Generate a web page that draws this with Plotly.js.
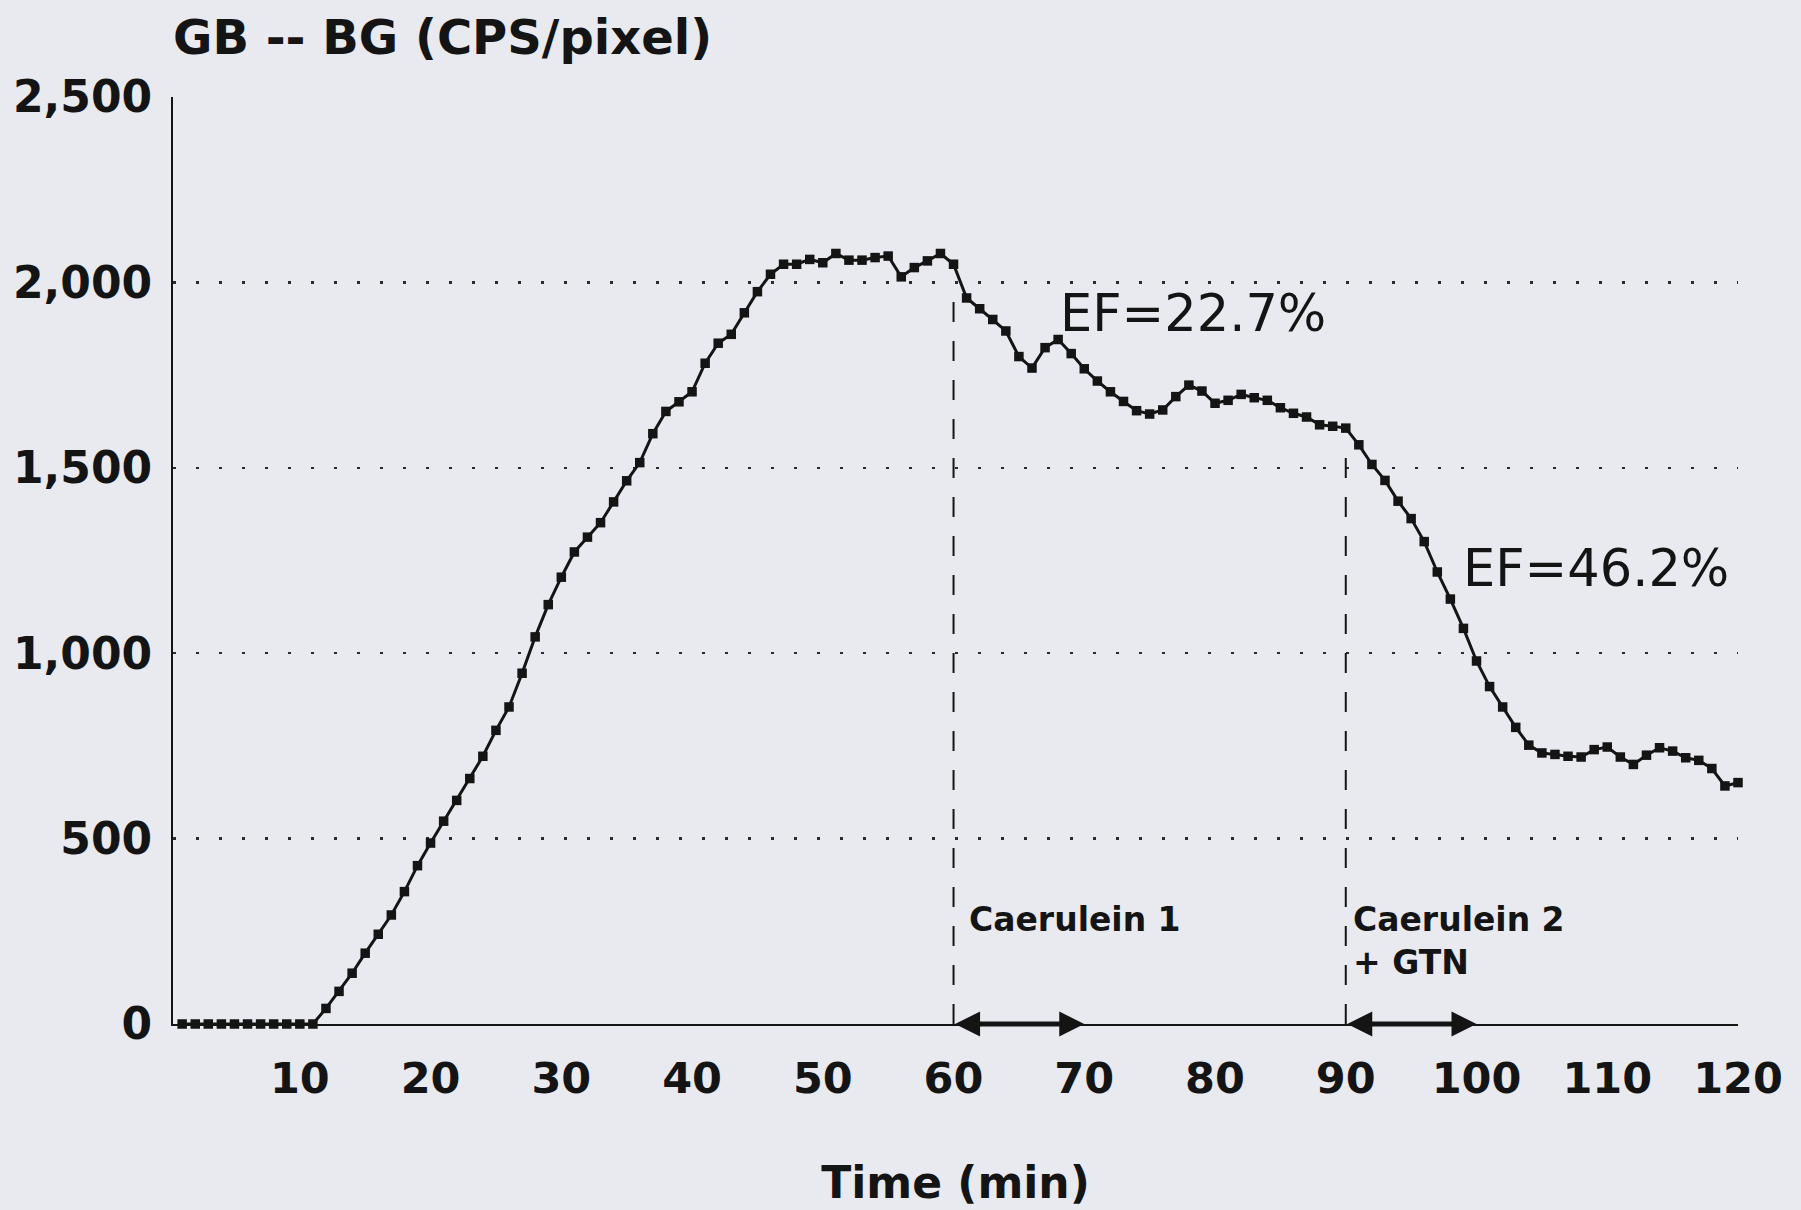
<!DOCTYPE html>
<html>
<head>
<meta charset="utf-8">
<script src="https://cdn.plot.ly/plotly-3.0.1.min.js"></script>
<style>
html, body { margin: 0; padding: 0; background: #e8eaef; }
#chart { width: 1801px; height: 1210px; }
</style>
</head>
<body>
<div id="chart"></div>
<script>
// Time (min) of each acquisition frame
const timeMin = [
  1, 2, 3, 4, 5, 6, 7, 8, 9, 10,
  11, 12, 13, 14, 15, 16, 17, 18, 19, 20,
  21, 22, 23, 24, 25, 26, 27, 28, 29, 30,
  31, 32, 33, 34, 35, 36, 37, 38, 39, 40,
  41, 42, 43, 44, 45, 46, 47, 48, 49, 50,
  51, 52, 53, 54, 55, 56, 57, 58, 59, 60,
  61, 62, 63, 64, 65, 66, 67, 68, 69, 70,
  71, 72, 73, 74, 75, 76, 77, 78, 79, 80,
  81, 82, 83, 84, 85, 86, 87, 88, 89, 90,
  91, 92, 93, 94, 95, 96, 97, 98, 99, 100,
  101, 102, 103, 104, 105, 106, 107, 108, 109, 110,
  111, 112, 113, 114, 115, 116, 117, 118, 119, 120
];

// Gallbladder minus background counts (CPS/pixel)
const gbMinusBg = [
  0, 0, 0, 0, 0, 0, 0, 0, 0, 0,
  0, 42, 88, 137, 191, 242, 294, 357, 427, 488,
  547, 603, 662, 722, 792, 855, 946, 1044, 1131, 1205,
  1273, 1313, 1352, 1408, 1465, 1514, 1592, 1652, 1678, 1705,
  1782, 1836, 1860, 1918, 1975, 2022, 2049, 2049, 2062, 2053,
  2078, 2060, 2060, 2067, 2071, 2015, 2040, 2058, 2078, 2049,
  1958, 1929, 1900, 1869, 1800, 1769, 1824, 1846, 1808, 1767,
  1734, 1705, 1679, 1654, 1645, 1656, 1692, 1723, 1707, 1674,
  1682, 1698, 1689, 1682, 1662, 1647, 1637, 1616, 1612, 1607,
  1562, 1509, 1466, 1410, 1363, 1301, 1219, 1146, 1067, 979,
  910, 855, 800, 752, 731, 727, 722, 720, 740, 747,
  720, 700, 725, 745, 736, 718, 711, 689, 642, 651
];

const yTickVals = [0, 500, 1000, 1500, 2000, 2500];
const yTickText = ['0', '500', '1,000', '1,500', '2,000', '2,500'];
const xTickVals = [10, 20, 30, 40, 50, 60, 70, 80, 90, 100, 110, 120];
const xTickText = ['10', '20', '30', '40', '50', '60', '70', '80', '90', '100', '110', '120'];

// Caerulein infusions
const doseStart = [60, 90];
const doseEnd = [70, 100];
const doseLineTop = [1960, 1575];
const doseLabels = ['Caerulein 1', 'Caerulein 2<br>+ GTN'];
const doseLabelX = [61, 90.4];
const doseLabelY = [283, 224];

// Ejection fractions
const efLabels = ['EF=22.7%', 'EF=46.2%'];
const efX = [68.0, 98.8];
const efY = [1915, 1229];

const ink = '#141414';
const fontFam = 'DejaVu Sans';

const trace = {
  x: timeMin,
  y: gbMinusBg,
  type: 'scatter',
  mode: 'lines+markers',
  line: { color: ink, width: 3 },
  marker: { symbol: 'square', size: 9.5, color: ink },
  cliponaxis: false,
  hoverinfo: 'skip'
};

const shapes = doseStart.map((t, i) => ({
  type: 'line', xref: 'x', yref: 'y',
  x0: t, x1: t, y0: 0, y1: doseLineTop[i],
  line: { color: ink, width: 2, dash: '20px,19px' }
}));

const annotations = [];
doseStart.forEach((t, i) => {
  annotations.push({
    x: doseEnd[i], y: 0, xref: 'x', yref: 'y',
    ax: t, ay: 0, axref: 'x', ayref: 'y',
    text: '', showarrow: true,
    arrowside: 'end+start', arrowhead: 2, startarrowhead: 2,
    arrowsize: 1, startarrowsize: 1, arrowwidth: 5, arrowcolor: ink
  });
  annotations.push({
    x: doseLabelX[i], y: doseLabelY[i], xref: 'x', yref: 'y',
    text: doseLabels[i], showarrow: false,
    xanchor: 'left', yanchor: 'middle', align: 'left',
    font: { family: fontFam, size: 33, weight: 'bold', color: ink }
  });
});
efLabels.forEach((txt, i) => {
  annotations.push({
    x: efX[i], y: efY[i], xref: 'x', yref: 'y',
    text: txt, showarrow: false,
    xanchor: 'left', yanchor: 'middle',
    font: { family: fontFam, size: 51, weight: 500, color: ink }
  });
});

const layout = {
  width: 1801, height: 1210,
  paper_bgcolor: '#e8eaef', plot_bgcolor: '#e8eaef',
  margin: { l: 173, r: 63, t: 97, b: 186, pad: 0 },
  showlegend: false,
  font: { family: fontFam, color: ink },
  title: {
    text: 'GB -- BG (CPS/pixel)',
    font: { family: fontFam, size: 48, weight: 'bold', color: ink },
    xref: 'paper', x: 0, xanchor: 'left',
    yref: 'container', y: 0.9695, yanchor: 'middle'
  },
  xaxis: {
    range: [0.3, 120],
    tickmode: 'array', tickvals: xTickVals, ticktext: xTickText,
    showgrid: false, zeroline: false,
    showline: true, linecolor: ink, linewidth: 2,
    ticks: '', ticklabelstandoff: 15,
    tickfont: { family: fontFam, size: 43, weight: 'bold', color: ink },
    title: { text: 'Time (min)', font: { family: fontFam, size: 44, weight: 'bold', color: ink }, standoff: 66 },
    automargin: false, fixedrange: true
  },
  yaxis: {
    range: [0, 2500],
    tickmode: 'array', tickvals: yTickVals, ticktext: yTickText,
    showgrid: true, gridcolor: '#2a2a2a', gridwidth: 2.5, griddash: '3px,20px',
    zeroline: false,
    showline: true, linecolor: ink, linewidth: 2,
    ticks: '', ticklabelstandoff: 10,
    tickfont: { family: fontFam, size: 44, weight: 'bold', color: ink },
    automargin: false, fixedrange: true
  },
  shapes: shapes,
  annotations: annotations
};

Plotly.newPlot('chart', [trace], layout, { displayModeBar: false, staticPlot: true });
</script>
</body>
</html>
